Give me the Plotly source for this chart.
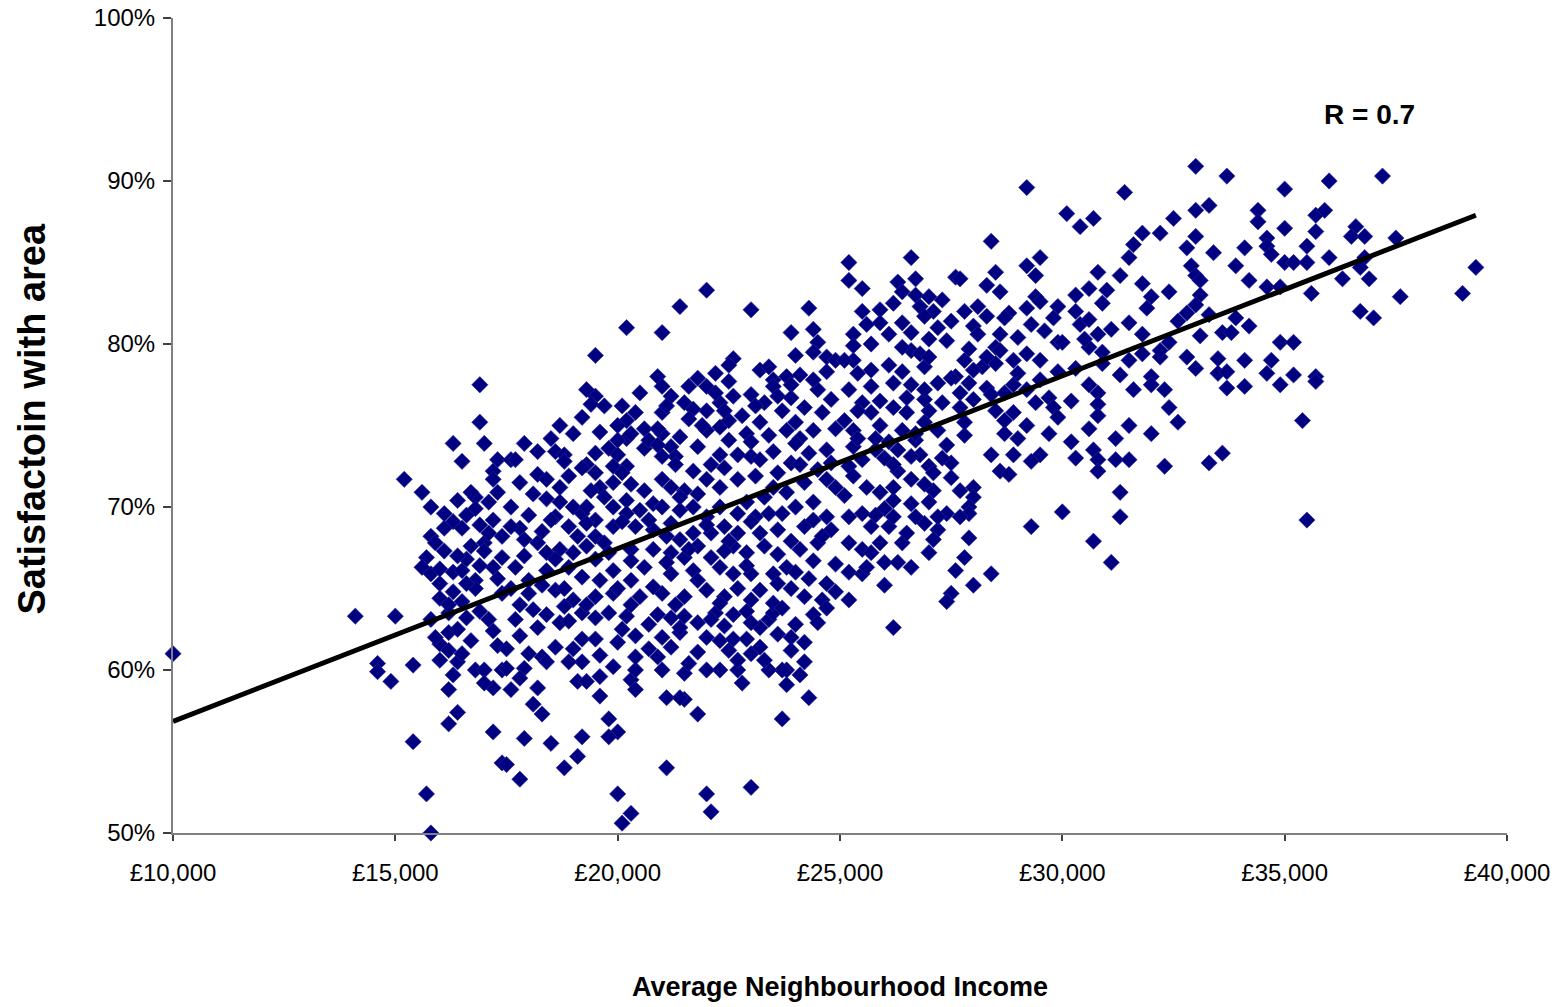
import plotly.graph_objects as go

# Neighbourhoods: (average income in £000s, % satisfied with area), grouped by income band
band_10_17 = [
    (10.0, 61.0), (14.1, 63.3), (15.0, 63.3), (14.6, 60.4), (14.6, 59.9), (15.4, 60.3), (14.9, 59.3),
    (15.4, 55.6), (15.7, 52.4), (15.8, 50.0), (16.9, 77.5), (16.9, 75.2), (16.3, 73.9), (17.0, 73.9),
    (16.5, 72.8), (17.3, 72.9), (17.2, 72.2), (17.2, 71.7), (17.3, 70.9), (15.2, 71.7), (15.6, 70.9),
    (15.8, 70.0), (16.4, 70.4), (16.8, 70.6), (16.8, 69.9), (17.2, 69.2), (16.3, 69.1), (16.1, 68.7),
    (16.5, 68.7), (15.8, 68.2), (17.0, 67.8), (16.7, 67.6), (17.0, 67.3), (16.1, 67.3), (17.4, 66.9),
    (15.7, 66.9), (15.6, 66.3), (15.8, 65.9), (17.2, 66.3), (16.3, 66.0), (16.5, 66.1), (16.0, 65.3),
    (16.8, 65.5), (16.3, 64.8), (16.8, 65.0), (16.0, 64.4), (16.5, 64.2), (17.4, 64.7), (15.8, 63.1),
    (16.2, 62.3), (16.4, 62.5), (16.0, 61.6), (16.2, 61.2), (16.0, 60.6), (16.4, 60.5), (16.7, 61.8),
    (17.1, 63.1), (17.3, 61.5), (16.8, 60.0), (17.0, 60.0), (17.4, 60.0), (16.3, 59.7), (16.2, 58.8),
    (17.2, 58.9), (16.4, 57.4), (16.2, 56.7), (17.2, 56.2), (17.4, 54.3), (16.2, 63.5),
    (16.6, 69.5), (16.9, 68.9), (17.1, 70.3), (16.6, 66.8), (17.4, 68.2), (16.0, 66.2), (16.6, 63.2),
    (16.1, 69.6), (16.7, 70.9), (17.1, 68.4), (16.4, 67.0), (16.9, 66.4), (15.9, 67.8), (16.6, 65.3),
    (17.3, 65.6), (16.2, 64.0), (16.9, 63.6), (17.2, 62.4), (16.5, 61.0), (15.9, 62.0), (17.0, 59.2),
]

band_17_20 = [
    (17.9, 55.8), (18.5, 55.5), (18.8, 54.0), (17.8, 53.3), (17.5, 54.2), (19.2, 55.9), (19.1, 54.7),
    (19.8, 57.0), (20.0, 56.2), (19.8, 55.9), (20.0, 52.4), (20.3, 51.2), (20.1, 50.6), (18.2, 58.9),
    (18.1, 57.9), (18.3, 57.3), (17.6, 58.8), (17.9, 60.1), (17.5, 60.1), (17.5, 61.3), (18.3, 60.8),
    (18.4, 60.5), (18.6, 61.4), (18.7, 62.9), (18.2, 62.6), (17.8, 62.1), (17.7, 63.1), (18.4, 63.4),
    (19.2, 63.5), (19.1, 59.3), (19.3, 59.3), (19.6, 59.6), (19.2, 60.5), (19.6, 60.9), (19.2, 61.9),
    (19.5, 61.9), (20.0, 61.7), (20.1, 62.5), (20.2, 63.3), (20.4, 62.1), (20.3, 59.4), (20.4, 60.0),
    (20.4, 60.8), (20.7, 61.3), (19.5, 79.3), (19.5, 76.8), (19.4, 76.3), (20.2, 81.0), (18.7, 75.0),
    (17.6, 72.9), (17.7, 72.9), (18.2, 73.4), (18.6, 73.4), (18.8, 73.2), (19.3, 72.6), (19.5, 73.3),
    (19.8, 73.6), (20.0, 73.2), (20.2, 74.2), (20.2, 72.5), (20.2, 75.3), (20.4, 75.8), (20.6, 74.8),
    (20.5, 77.0), (18.2, 72.0), (18.4, 71.7), (18.9, 71.9), (19.2, 72.4), (19.5, 72.1), (19.9, 72.5),
    (19.6, 71.2), (19.9, 71.5), (20.1, 72.1), (20.6, 71.0), (18.1, 70.8), (18.7, 70.3), (18.6, 69.4),
    (19.0, 70.0), (19.2, 69.6), (19.3, 70.0), (19.5, 69.2), (19.9, 70.0), (20.2, 70.4), (20.2, 69.6),
    (20.5, 69.8), (20.8, 70.2), (20.4, 68.8), (19.9, 68.8), (19.5, 68.2), (19.3, 69.0), (18.9, 68.8),
    (18.5, 69.2), (17.8, 68.7), (17.6, 68.8), (17.9, 68.0), (18.2, 67.8), (18.7, 67.4), (19.3, 67.6),
    (19.7, 67.8), (20.3, 67.4), (20.8, 67.4), (20.8, 68.6), (20.6, 66.3), (20.3, 65.5), (19.9, 66.1),
    (19.6, 65.5), (19.2, 65.7), (18.9, 66.3), (18.4, 66.1), (18.0, 65.5), (17.6, 65.0), (18.0, 64.7),
    (18.6, 64.9), (19.0, 64.3), (19.5, 64.5), (19.9, 64.7), (20.5, 64.5),
    (19.3, 77.2), (19.7, 76.2), (20.0, 75.0), (20.3, 74.5), (20.6, 73.6), (20.1, 76.2),
    (17.8, 64.0), (18.3, 65.2), (18.8, 65.0), (19.3, 64.0), (20.0, 65.0), (17.6, 70.0),
    (17.8, 71.5), (18.0, 69.5), (18.4, 70.5), (17.9, 67.0), (18.3, 68.5), (18.8, 72.8),
    (17.9, 73.9), (18.5, 74.2), (18.9, 63.0), (19.8, 63.5), (18.0, 61.0), (19.0, 61.3),
    (19.0, 74.5), (19.6, 74.6), (19.2, 75.5), (20.0, 74.1), (19.4, 71.0), (18.7, 71.2), (19.7, 70.6),
    (20.3, 71.4), (19.1, 68.2), (20.1, 69.1), (18.4, 67.2), (19.0, 67.2), (19.8, 67.2), (20.3, 66.7),
    (18.6, 66.8), (19.5, 66.8), (17.7, 66.3), (18.8, 63.9), (19.5, 63.2), (20.3, 64.0), (18.1, 63.7),
    (19.9, 60.2), (18.9, 60.5), (17.8, 59.5), (19.6, 58.4), (20.4, 58.8),
]

band_20_25 = [
    (21.1, 54.0), (22.0, 52.4), (22.1, 51.3), (23.0, 52.8), (21.1, 58.3), (21.5, 58.2), (21.4, 58.3),
    (21.8, 57.3), (23.7, 57.0), (24.3, 58.3), (23.8, 59.1), (24.4, 63.4), (24.5, 62.9), (23.9, 62.0),
    (23.9, 61.2), (23.8, 60.0), (23.7, 60.0), (23.4, 60.0), (22.7, 60.0), (22.7, 60.6), (22.3, 60.0),
    (22.0, 60.0), (21.5, 59.8), (21.0, 60.0), (21.0, 62.0), (21.2, 61.4), (21.4, 62.3), (21.4, 62.6),
    (21.8, 62.9), (22.0, 62.0), (21.8, 61.1), (22.3, 61.8), (22.6, 61.9), (22.2, 63.5), (22.6, 63.4),
    (23.0, 61.0), (23.2, 61.4), (23.2, 62.6), (23.4, 63.1), (23.5, 63.5), (23.0, 62.9), (22.0, 83.3),
    (21.4, 82.3), (21.0, 80.7), (23.0, 82.1), (24.3, 82.2), (23.9, 80.7), (24.4, 80.9), (24.5, 80.1),
    (24.4, 79.5), (24.7, 79.2), (24.9, 79.0), (24.7, 78.3), (22.6, 79.1), (22.5, 78.7), (22.2, 78.2),
    (23.2, 78.4), (20.9, 78.0), (23.8, 78.0), (24.1, 78.1), (23.5, 77.8), (21.8, 77.9), (21.0, 77.4),
    (21.2, 76.8), (21.6, 77.4), (21.5, 76.4), (22.0, 77.4), (22.5, 77.7), (23.0, 76.9), (23.5, 77.4),
    (23.9, 77.5), (24.5, 77.2), (24.8, 76.6), (23.3, 76.4), (23.7, 75.9), (24.2, 76.1), (22.8, 75.6),
    (22.3, 76.4), (22.0, 75.9), (22.3, 74.9), (22.5, 74.1), (22.0, 74.7), (21.0, 75.8), (21.0, 74.5),
    (21.2, 73.7), (20.7, 74.1), (20.9, 73.8), (21.3, 73.1), (21.0, 73.1), (21.8, 73.7), (22.1, 72.6),
    (22.3, 73.2), (22.7, 73.2), (23.0, 73.1), (23.2, 72.9), (23.5, 73.4), (23.8, 74.7), (24.0, 75.2),
    (24.4, 74.7), (23.2, 75.2), (23.4, 74.4), (23.9, 72.7), (24.3, 73.3), (24.7, 73.5), (24.8, 72.7),
    (21.0, 71.7), (21.2, 71.2), (21.5, 71.0), (21.8, 70.8), (22.0, 71.7), (22.3, 71.2), (22.7, 71.7),
    (23.1, 71.9), (23.5, 71.2), (23.6, 72.1), (23.8, 70.9), (24.2, 71.5), (24.7, 71.7), (21.0, 70.0),
    (21.4, 69.8), (21.7, 70.0), (22.0, 69.4), (22.3, 70.0), (22.4, 68.8), (22.7, 69.6), (23.1, 69.4),
    (23.4, 69.6), (23.7, 69.6), (24.0, 70.0), (24.7, 69.4), (24.8, 68.6), (24.2, 68.8), (23.6, 68.6),
    (23.2, 68.4), (22.7, 68.4), (22.1, 68.4), (21.7, 68.4), (21.4, 68.0), (21.1, 68.2), (21.2, 67.2),
    (21.8, 67.6), (22.1, 66.9), (22.6, 67.6), (22.9, 67.2), (23.3, 67.6), (24.1, 67.4), (24.4, 66.7),
    (23.8, 66.3), (23.5, 65.9), (23.0, 65.9), (22.6, 65.9), (22.3, 66.3), (21.7, 66.1), (21.2, 65.9),
    (21.0, 64.7), (21.5, 64.5), (22.0, 64.9), (22.4, 64.5), (22.7, 65.0), (23.2, 64.9), (23.6, 65.3),
    (23.9, 65.0), (24.2, 64.5), (24.6, 64.3), (24.7, 65.3),
    (20.9, 74.8), (21.3, 72.6), (21.4, 74.3), (21.7, 76.0), (22.2, 77.0), (21.9, 75.0), (22.5, 75.3),
    (22.6, 76.8), (22.9, 74.5), (23.6, 76.8), (24.1, 74.2), (24.6, 75.8), (24.9, 74.8), (23.0, 74.0),
    (24.5, 72.3), (24.0, 73.9), (24.9, 71.2), (21.2, 69.0), (20.7, 69.2), (22.5, 67.9), (21.5, 66.9),
    (22.9, 66.4), (23.9, 67.9), (24.5, 67.8), (24.9, 66.5), (24.0, 66.0), (20.8, 65.1), (21.3, 64.0),
    (21.8, 65.5), (22.3, 64.1), (23.0, 64.3), (23.5, 64.1), (24.3, 65.6), (24.9, 64.8), (20.7, 62.8),
    (21.2, 63.2), (22.9, 61.9), (24.2, 61.7), (24.7, 63.8), (20.9, 60.8), (22.4, 62.7), (23.6, 62.2),
    (21.1, 76.2), (21.6, 75.4), (22.4, 75.9), (23.1, 76.2), (23.9, 76.7), (24.4, 77.8), (23.4, 78.6),
    (24.0, 79.3), (21.7, 72.2), (22.4, 72.4), (23.3, 70.6), (22.9, 70.3), (24.4, 70.3), (24.1, 72.6),
    (21.4, 70.6), (22.0, 68.9), (23.0, 69.1), (24.4, 69.2), (21.6, 67.4), (23.6, 67.1), (22.4, 67.3),
    (21.1, 66.6), (24.6, 68.2), (21.5, 63.3), (22.1, 63.1), (22.9, 63.6), (23.7, 63.8), (24.0, 62.8),
    (21.6, 60.4), (22.5, 61.2), (23.3, 60.6), (24.2, 60.5), (22.8, 59.2), (24.1, 59.7), (20.9, 63.4),
]

band_25_30 = [
    (26.2, 62.6), (29.2, 89.6), (30.1, 88.0), (30.4, 87.2), (30.7, 87.7), (28.4, 86.3), (25.2, 85.0),
    (26.6, 85.3), (25.2, 83.9), (25.5, 83.4), (26.3, 83.8), (26.7, 84.0), (26.4, 83.2), (27.6, 84.1),
    (27.7, 84.0), (28.5, 84.4), (28.3, 83.6), (28.6, 83.2), (29.2, 84.8), (29.5, 85.3), (29.4, 84.2),
    (30.8, 84.4), (30.6, 83.4), (25.5, 82.0), (25.9, 82.1), (25.9, 81.3), (26.1, 80.6), (25.3, 80.6),
    (25.3, 79.9), (26.7, 83.0), (27.0, 82.9), (27.3, 82.7), (26.8, 82.3), (27.1, 82.0), (26.9, 81.7),
    (26.4, 81.3), (26.6, 80.7), (27.2, 81.0), (27.5, 81.4), (28.1, 82.3), (28.3, 81.7), (28.0, 81.1),
    (28.1, 80.6), (28.8, 81.9), (28.7, 81.6), (29.2, 82.2), (29.4, 82.9), (29.5, 82.6), (29.3, 81.2),
    (29.0, 80.4), (28.6, 80.6), (28.5, 79.8), (29.9, 82.3), (29.8, 81.6), (30.3, 82.0), (30.4, 81.2),
    (30.6, 81.5), (29.9, 80.1), (30.0, 80.1), (30.6, 79.8), (29.2, 79.4), (29.5, 79.0), (28.9, 79.0),
    (28.6, 79.6), (28.2, 78.6), (27.8, 79.0), (28.0, 78.4), (26.6, 79.6), (26.8, 79.4), (26.9, 78.6),
    (26.1, 78.7), (25.7, 78.4), (25.3, 79.0), (25.1, 79.0), (27.6, 78.0), (28.5, 78.8), (29.9, 78.3),
    (28.9, 77.5), (29.2, 77.2), (29.7, 76.7), (29.8, 76.1), (29.4, 76.4), (28.9, 75.8), (28.5, 75.9),
    (29.2, 75.0), (28.7, 74.5), (29.7, 74.5), (29.5, 73.2), (29.3, 72.8), (28.9, 73.2), (28.4, 73.2),
    (28.6, 72.2), (28.8, 72.0), (30.0, 69.7), (29.3, 68.8), (27.5, 71.8), (28.0, 71.2), (28.0, 70.6),
    (27.9, 70.0), (27.9, 69.6), (27.7, 69.4), (27.4, 69.6), (27.1, 71.0), (27.0, 70.3), (26.9, 69.0),
    (26.7, 69.4), (27.2, 68.6), (27.1, 68.0), (27.9, 68.1), (27.8, 66.9), (27.6, 66.1), (28.0, 65.2),
    (28.4, 65.9), (27.5, 64.7), (27.4, 64.2), (26.4, 67.8), (26.0, 66.6), (26.3, 66.6), (26.6, 66.3),
    (26.0, 65.2), (25.2, 64.3), (25.2, 66.0), (25.5, 65.9), (25.2, 67.8), (25.5, 67.4), (25.7, 67.2),
    (25.7, 68.8), (26.1, 68.8), (26.2, 69.4), (26.0, 69.9), (26.2, 70.4), (25.9, 70.9), (25.6, 71.2),
    (25.5, 69.6), (25.2, 69.4), (25.1, 70.7), (26.6, 71.7), (26.3, 72.2), (27.0, 72.5), (27.1, 72.1),
    (26.8, 73.2), (26.2, 72.6), (26.0, 73.0), (25.5, 72.9), (25.2, 72.5), (25.3, 73.7), (25.3, 74.7),
    (25.1, 75.3), (26.7, 74.1), (26.4, 74.7), (26.7, 74.5), (27.2, 74.7), (27.8, 74.4), (27.8, 75.2),
    (27.3, 76.4), (27.7, 77.0), (27.9, 77.6), (26.9, 76.6), (27.0, 75.9), (26.5, 75.8), (26.2, 76.1),
    (25.7, 75.8), (25.5, 76.4), (25.2, 77.2), (25.7, 77.4), (26.2, 77.6), (26.6, 77.5), (27.2, 77.6),
    (26.5, 76.7), (25.9, 76.5), (27.7, 76.1),
    (25.9, 75.0), (26.9, 75.2), (25.4, 75.9), (26.3, 73.5), (27.4, 73.8), (27.5, 72.7), (25.8, 74.2),
    (25.7, 80.0), (26.4, 79.8), (27.4, 80.2), (27.9, 79.7), (27.0, 79.2), (25.6, 81.2), (27.8, 82.0),
    (25.4, 74.2), (26.1, 74.0), (26.6, 73.1), (27.3, 73.0), (25.8, 73.5), (26.9, 71.4), (26.2, 71.2),
    (25.3, 71.9), (27.7, 71.0), (26.6, 70.2), (25.8, 69.5), (27.2, 69.4), (26.5, 68.4), (25.9, 67.8),
    (27.0, 67.2), (25.6, 66.3), (25.4, 78.2), (26.4, 78.3), (26.9, 77.2), (27.5, 77.9), (28.3, 77.3),
    (28.0, 76.6), (28.4, 76.9), (29.0, 78.2), (29.5, 77.8), (28.7, 77.0), (29.6, 80.8), (28.3, 79.2),
    (27.0, 80.3), (26.2, 82.5), (28.7, 75.3), (29.0, 74.2), (29.9, 75.5),
]

band_30_40 = [
    (31.4, 89.3), (32.5, 87.7), (31.8, 86.8), (32.2, 86.8), (31.6, 86.1), (31.5, 85.3), (31.3, 84.2),
    (31.0, 83.3), (31.8, 83.7), (32.0, 82.9), (32.4, 83.2), (30.9, 82.5), (31.1, 80.9), (30.8, 80.6),
    (31.5, 81.3), (32.4, 80.1), (32.2, 79.2), (30.9, 79.5), (31.5, 79.0), (31.3, 78.1), (32.0, 78.0),
    (32.2, 79.6), (33.0, 90.9), (33.7, 90.3), (35.0, 89.5), (36.0, 90.0), (37.2, 90.3), (33.0, 88.2),
    (33.3, 88.5), (34.4, 88.2), (34.4, 87.5), (35.0, 87.1), (35.7, 87.9), (35.9, 88.2), (35.7, 86.9),
    (36.6, 87.2), (36.5, 86.6), (36.8, 86.6), (37.5, 86.5), (33.0, 86.6), (32.8, 85.9), (33.4, 85.6),
    (34.1, 85.9), (34.6, 86.5), (34.6, 86.0), (34.7, 85.5), (35.5, 86.0), (35.0, 85.0), (35.2, 85.0),
    (35.5, 85.0), (36.0, 85.3), (36.8, 85.3), (36.7, 84.7), (33.9, 84.8), (32.9, 84.8), (33.0, 84.2),
    (33.1, 83.9), (34.2, 83.9), (36.3, 84.0), (36.9, 84.0), (39.3, 84.7), (39.0, 83.1), (37.6, 82.9),
    (34.6, 83.5), (34.9, 83.5), (35.6, 83.1), (33.1, 83.0), (33.0, 82.4), (32.8, 81.9), (33.3, 81.8),
    (33.9, 81.6), (34.2, 81.1), (33.6, 80.7), (33.8, 80.7), (33.1, 80.5), (36.7, 82.0), (37.0, 81.6),
    (34.9, 80.1), (35.2, 80.1), (32.8, 79.2), (33.5, 79.1), (34.1, 79.0), (34.7, 79.0), (33.0, 78.5),
    (33.5, 78.2), (33.7, 78.3), (34.6, 78.2), (35.2, 78.1), (35.7, 78.0), (33.7, 77.3), (34.1, 77.4),
    (34.9, 77.5), (35.7, 77.7), (32.6, 75.2), (35.4, 75.3), (33.6, 73.3), (33.3, 72.7), (35.5, 69.2),
    (31.6, 77.2), (32.0, 77.5), (32.3, 77.2), (32.4, 76.1), (30.6, 77.5), (30.8, 77.0), (30.8, 76.3),
    (30.8, 75.6), (30.2, 76.5), (30.6, 74.8), (31.5, 75.0), (32.0, 74.5), (31.2, 74.2), (30.2, 74.0),
    (30.7, 73.5), (30.8, 72.9), (30.8, 72.2), (30.3, 73.0), (31.2, 72.9), (31.5, 72.9), (32.3, 72.5),
    (31.3, 70.9), (31.3, 69.4), (30.7, 67.9), (31.1, 66.6),
    (30.3, 78.5), (30.9, 78.8), (31.8, 79.4), (30.5, 80.3), (31.8, 80.6), (32.6, 81.4), (31.9, 82.2),
    (30.3, 83.0),
]

# Linear trend line (income in £, satisfaction in %)
trend_income = [10000, 39300]
trend_satisfaction = [56.85, 87.9]
correlation_label = "R = 0.7"

x_ticks = [10000, 15000, 20000, 25000, 30000, 35000, 40000]
x_tick_labels = ["£10,000", "£15,000", "£20,000", "£25,000", "£30,000", "£35,000", "£40,000"]
y_ticks = [50, 60, 70, 80, 90, 100]
y_tick_labels = ["50%", "60%", "70%", "80%", "90%", "100%"]

points = band_10_17 + band_17_20 + band_20_25 + band_25_30 + band_30_40
income = [p[0] * 1000 for p in points]
satisfaction = [p[1] for p in points]

FONT = "Liberation Sans, Arial, sans-serif"

fig = go.Figure()
fig.add_trace(go.Scatter(
    x=income, y=satisfaction, mode="markers",
    marker=dict(symbol="diamond", size=12.5, color="#000080",
                line=dict(width=0.6, color="#2a2a9a")),
    cliponaxis=False, showlegend=False, hoverinfo="x+y",
))
fig.add_trace(go.Scatter(
    x=trend_income, y=trend_satisfaction, mode="lines",
    line=dict(color="black", width=5), showlegend=False, hoverinfo="skip",
))

fig.update_layout(
    width=1560, height=1007,
    margin=dict(l=173, r=53, t=18, b=174, autoexpand=False),
    paper_bgcolor="white", plot_bgcolor="white",
    font=dict(family=FONT, color="black", size=24),
    xaxis=dict(
        range=[10000, 40000], tickvals=x_ticks, ticktext=x_tick_labels,
        showgrid=False, zeroline=False, showline=True, linecolor="#808080", linewidth=2,
        ticks="outside", ticklen=6, tickwidth=1.5, tickcolor="#404040",
        tickfont=dict(size=24), ticklabelstandoff=11, automargin=False,
    ),
    yaxis=dict(
        range=[50, 100], tickvals=y_ticks, ticktext=y_tick_labels,
        showgrid=False, zeroline=False, showline=True, linecolor="#808080", linewidth=2,
        ticks="outside", ticklen=8, tickwidth=1.5, tickcolor="#404040",
        tickfont=dict(size=24), ticklabelstandoff=3, automargin=False,
    ),
    annotations=[
        dict(text="<b>Average Neighbourhood Income</b>", xref="paper", yref="paper",
             x=0.5, y=-0.189, xanchor="center", yanchor="middle", showarrow=False,
             font=dict(size=27, family=FONT)),
        dict(text="<b>Satisfactoin with area</b>", xref="paper", yref="paper",
             x=-0.106, y=0.508, xanchor="center", yanchor="middle", textangle=-90,
             showarrow=False, font=dict(size=38, family=FONT)),
        dict(text="<b>" + correlation_label + "</b>", xref="x", yref="y",
             x=36900, y=94.1, xanchor="center", yanchor="middle", showarrow=False,
             font=dict(size=28, family=FONT)),
    ],
)

fig.write_html("out.html")
